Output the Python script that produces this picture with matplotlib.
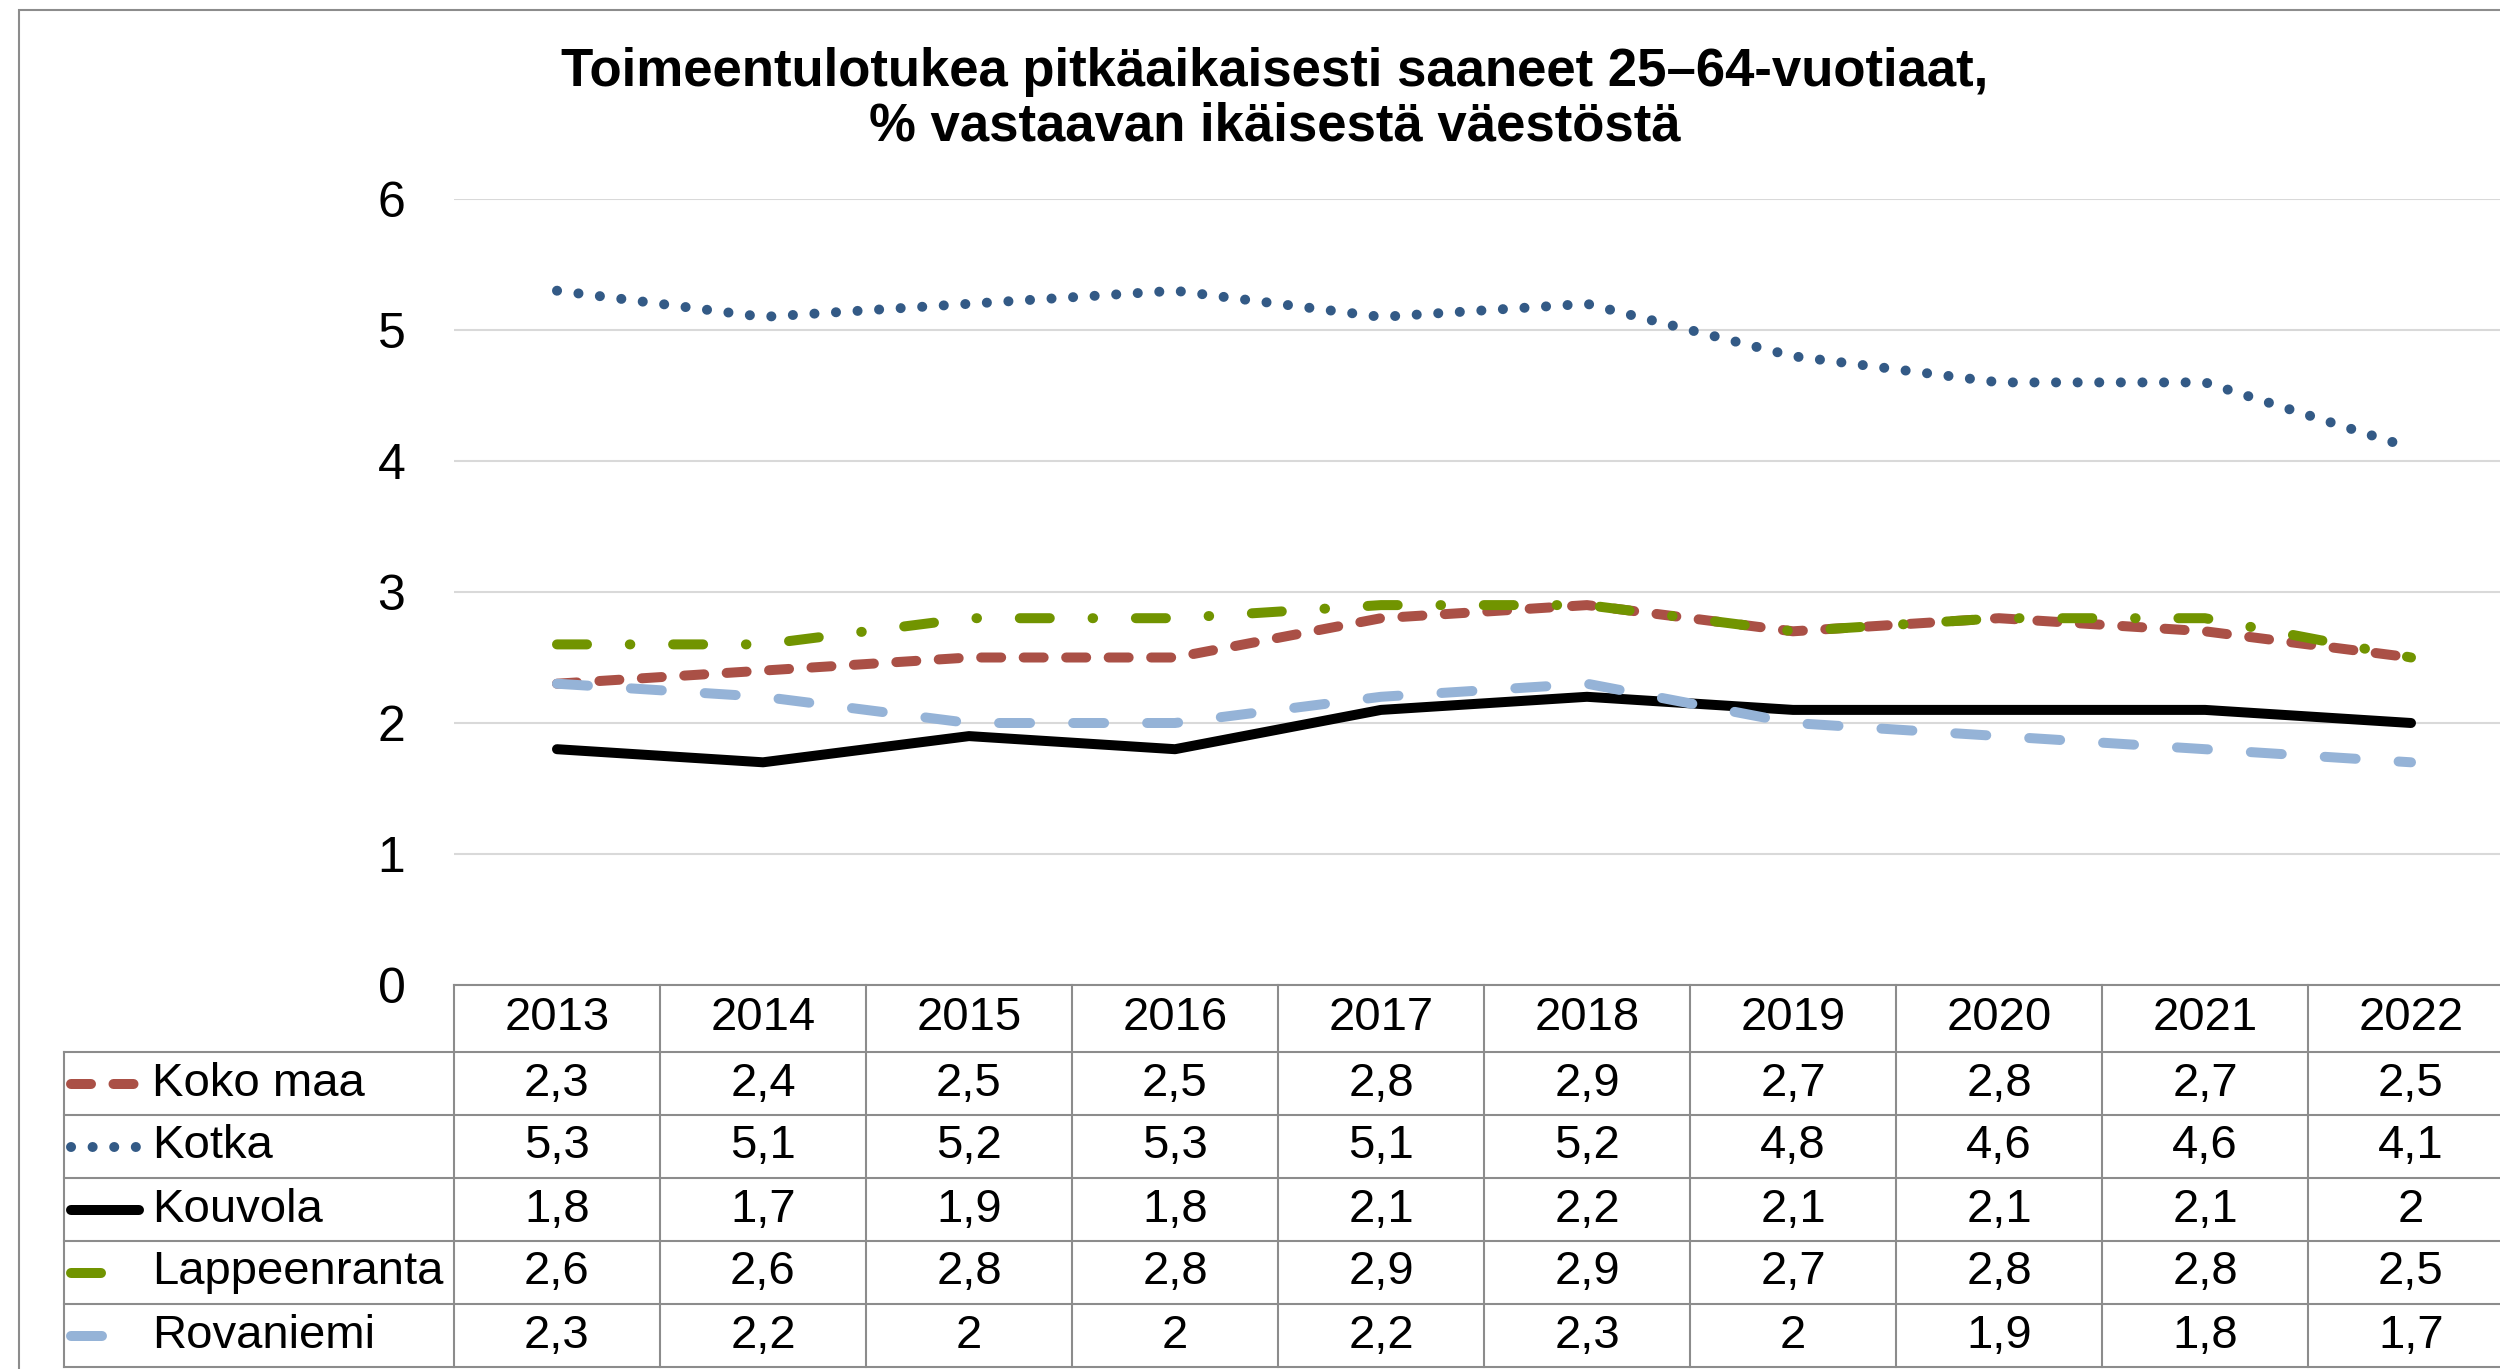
import numpy as np
import matplotlib
matplotlib.use("Agg")
import matplotlib.pyplot as plt
from matplotlib.patches import Rectangle

plt.rcParams['font.family'] = ['Liberation Sans', 'DejaVu Sans']
plt.rcParams['lines.scale_dashes'] = False

# ---- data ----
years = [2013, 2014, 2015, 2016, 2017, 2018, 2019, 2020, 2021, 2022]
koko_maa = [2.3, 2.4, 2.5, 2.5, 2.8, 2.9, 2.7, 2.8, 2.7, 2.5]
kotka = [5.3, 5.1, 5.2, 5.3, 5.1, 5.2, 4.8, 4.6, 4.6, 4.1]
kouvola = [1.8, 1.7, 1.9, 1.8, 2.1, 2.2, 2.1, 2.1, 2.1, 2.0]
lappeenranta = [2.6, 2.6, 2.8, 2.8, 2.9, 2.9, 2.7, 2.8, 2.8, 2.5]
rovaniemi = [2.3, 2.2, 2.0, 2.0, 2.2, 2.3, 2.0, 1.9, 1.8, 1.7]
names = ["Koko maa", "Kotka", "Kouvola", "Lappeenranta", "Rovaniemi"]
title = "Toimeentulotukea pitkäaikaisesti saaneet 25–64-vuotiaat,\n% vastaavan ikäisestä väestöstä"

series = [koko_maa, kotka, kouvola, lappeenranta, rovaniemi]

# line styles (dash patterns in points)
LW = 7.2
styles = [
    dict(color="#AA5046", dashes=(14.4, 16.2)),
    dict(color="#335A86", dashes=(0.05, 15.5)),
    dict(color="#000000"),
    dict(color="#719400", dashes=(21.6, 30.8, 0.4, 30.8)),
    dict(color="#95B3D7", dashes=(22.3, 31.0)),
]


def fi(v):
    return f"{v:g}".replace(".", ",")


W, H = 2500, 1369
fig = plt.figure(figsize=(W / 100, H / 100), dpi=100)

# outer chart frame (left + top visible)
fig.add_artist(Rectangle((19 / W, -0.5), 2, 1 - 10 / H + 0.5, transform=fig.transFigure,
                         fill=False, ec="#8C8C8C", lw=1.5))

# ---- main plot ----
ax = fig.add_axes([454 / W, 1 - 985 / H, 2060 / W, 786 / H])
x = np.arange(len(years))
for vals, st in zip(series, styles):
    ax.plot(x, vals, lw=LW, dash_capstyle="round", solid_capstyle="round",
            solid_joinstyle="round", dash_joinstyle="round", clip_on=False, **st)
ax.set_xlim(-0.5, len(years) - 0.5)
ax.set_ylim(0, 6)
ax.set_yticks(range(7))
ax.set_xticks([])
ax.grid(axis="y", color="#D9D9D9", lw=1.5)
ax.set_axisbelow(True)
for s in ax.spines.values():
    s.set_visible(False)
ax.tick_params(axis="y", length=0, pad=35, labelsize=36)

fig.text(1275 / W, 1 - 99 / H, title, ha="center", va="center",
         fontsize=38, fontweight="bold", linespacing=1.12)

# ---- data table (y in pixels from the header top) ----
leg_w = 390 / 206
tab = fig.add_axes([64 / W, 1 - 1367 / H, 2450 / W, 382 / H])
tab.set_xlim(-0.5 - leg_w, len(years) - 0.5)
tab.set_ylim(382, 0)
tab.axis("off")
edges = [0, 67, 130, 193, 256, 319, 382]

gc = "#8C8C8C"
glw = 1.5
left = -0.5 - leg_w
right = len(years) - 0.5
tab.plot([-0.5, right], [0, 0], color=gc, lw=glw, clip_on=False)
for e in edges[1:]:
    tab.plot([left, right], [e, e], color=gc, lw=glw, clip_on=False)
for c in range(len(years) + 1):
    tab.plot([c - 0.5, c - 0.5], [0, edges[-1]], color=gc, lw=glw, clip_on=False)
tab.plot([left, left], [edges[1], edges[-1]], color=gc, lw=glw, clip_on=False)

for i, yr in enumerate(years):
    tab.text(i, (edges[0] + edges[1]) / 2, str(yr), ha="center", va="center", fontsize=34)

key_x0 = -0.5 - (454 - 71) / 206
key_x1 = -0.5 - (454 - 139) / 206
txt_x = -0.5 - (454 - 152) / 206
for r, (name, vals, st) in enumerate(zip(names, series, styles), start=1):
    yc = (edges[r] + edges[r + 1]) / 2
    tab.plot([key_x0, key_x1], [yc, yc], lw=LW, dash_capstyle="round",
             solid_capstyle="round", clip_on=False, **st)
    tab.text(txt_x, yc, name, ha="left", va="center", fontsize=34)
    for i, v in enumerate(vals):
        tab.text(i, yc, fi(v), ha="center", va="center", fontsize=34)

fig.savefig("out.png", dpi=100)
